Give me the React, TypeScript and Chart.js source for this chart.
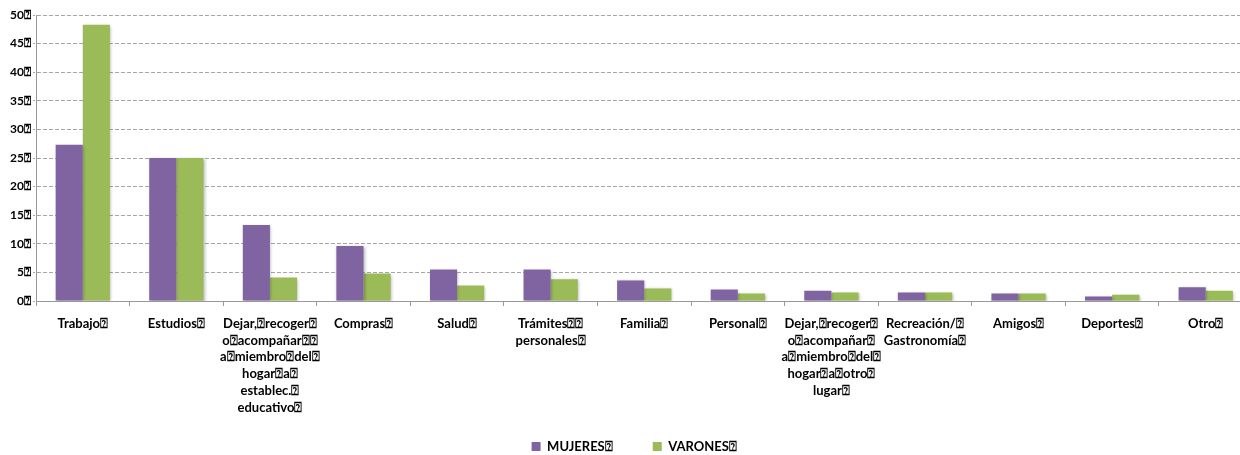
import React, { useEffect, useRef } from "react";
import { Chart, registerables } from "chart.js";

Chart.register(...registerables);

const Q = "\u2370";

const categories: (string | string[])[] = [
  `Trabajo${Q}`,
  `Estudios${Q}`,
  [`Dejar,${Q}recoger${Q}`, `o${Q}acompañar${Q}${Q}`, `a${Q}miembro${Q}del${Q}`, `hogar${Q}a${Q}`, `establec.${Q}`, `educativo${Q}`],
  `Compras${Q}`,
  `Salud${Q}`,
  [`Trámites${Q}${Q}`, `personales${Q}`],
  `Familia${Q}`,
  `Personal${Q}`,
  [`Dejar,${Q}recoger${Q}`, `o${Q}acompañar${Q}`, `a${Q}miembro${Q}del${Q}`, `hogar${Q}a${Q}otro${Q}`, `lugar${Q}`],
  [`Recreación/${Q}`, `Gastronomía${Q}`],
  `Amigos${Q}`,
  `Deportes${Q}`,
  `Otro${Q}`,
];

const mujeres = [27.3, 25.0, 13.3, 9.6, 5.5, 5.5, 3.6, 2.0, 1.8, 1.5, 1.3, 0.8, 2.4];
const varones = [48.3, 25.0, 4.1, 4.8, 2.7, 3.8, 2.2, 1.3, 1.5, 1.5, 1.3, 1.1, 1.8];

const seriesNames = [`MUJERES${Q}`, `VARONES${Q}`];
const yTickValues = [0, 5, 10, 15, 20, 25, 30, 35, 40, 45, 50];

const PURPLE = "#8064A2";
const GREEN = "#9BBB59";
const FONT = "Lato, 'Open Sans', 'DejaVu Sans', sans-serif";

const shadowPlugin = {
  id: "barShadow",
  afterLayout(chart: any) {
    // let the multi-line category labels extend below the axis box without clipping
    if (chart.scales.x) chart.scales.x.bottom = chart.height;
    // centre the legend under the visible part of the chart
    if (chart.legend) {
      chart.legend.left += 8;
      chart.legend.right += 8;
    }
  },
  beforeDatasetsDraw(chart: any) {
    const ctx = chart.ctx;
    ctx.save();
    ctx.shadowColor = "rgba(0,0,0,0.28)";
    ctx.shadowBlur = 3;
    ctx.shadowOffsetX = 1;
    ctx.shadowOffsetY = 1;
  },
  afterDatasetsDraw(chart: any) {
    chart.ctx.restore();
  },
};

export default function App() {
  const ref = useRef<HTMLCanvasElement | null>(null);

  useEffect(() => {
    if (!ref.current) return;
    const chart = new Chart(ref.current, {
      type: "bar",
      data: {
        labels: categories,
        datasets: [
          {
            label: seriesNames[0],
            data: mujeres,
            backgroundColor: PURPLE,
            categoryPercentage: 0.58,
            barPercentage: 1,
          },
          {
            label: seriesNames[1],
            data: varones,
            backgroundColor: GREEN,
            categoryPercentage: 0.58,
            barPercentage: 1,
          },
        ],
      },
      options: {
        responsive: false,
        animation: false,
        layout: { padding: { top: 15, left: 0, right: 9.5, bottom: 0 } },
        plugins: {
          tooltip: { enabled: false },
          legend: {
            position: "bottom",
            labels: {
              boxWidth: 9,
              boxHeight: 9,
              padding: 40,
              color: "#000",
              font: { family: FONT, size: 13, weight: "bold" },
            },
          },
        },
        scales: {
          x: {
            offset: true,
            grid: {
              display: true,
              drawOnChartArea: false,
              drawTicks: true,
              tickLength: 5,
              color: "#999",
              offset: true,
            },
            border: { display: true, color: "#999", width: 1 },
            ticks: {
              color: "#000",
              padding: 9,
              maxRotation: 0,
              autoSkip: false,
              font: { family: FONT, size: 13, weight: "bold", lineHeight: 1.3 },
            },
            afterFit(scale: any) {
              scale.height = 99;
            },
          },
          y: {
            min: 0,
            max: 50,
            afterBuildTicks(scale: any) {
              scale.ticks = yTickValues.map((v) => ({ value: v }));
            },
            grid: {
              color: "#a6a6a6",
              lineWidth: 1,
              tickLength: 3,
              tickBorderDash: [2, 1],
            },
            border: { display: true, color: "#999", width: 1, dash: [4, 2] },
            ticks: {
              color: "#000",
              padding: 2,
              font: { family: FONT, size: 12, weight: "bold" },
              callback: (v: any) => `${v}${Q}`,
            },
            afterFit(scale: any) {
              scale.width = 36;
            },
          },
        },
      },
      plugins: [shadowPlugin],
    });
    return () => chart.destroy();
  }, []);

  return (
    <div
      style={{
        position: "fixed",
        left: 0,
        top: 0,
        width: 1240,
        height: 455,
        overflow: "hidden",
        background: "#fff",
      }}
    >
      <canvas ref={ref} width={1262} height={463} style={{ width: 1262, height: 463, display: "block" }} />
    </div>
  );
}
